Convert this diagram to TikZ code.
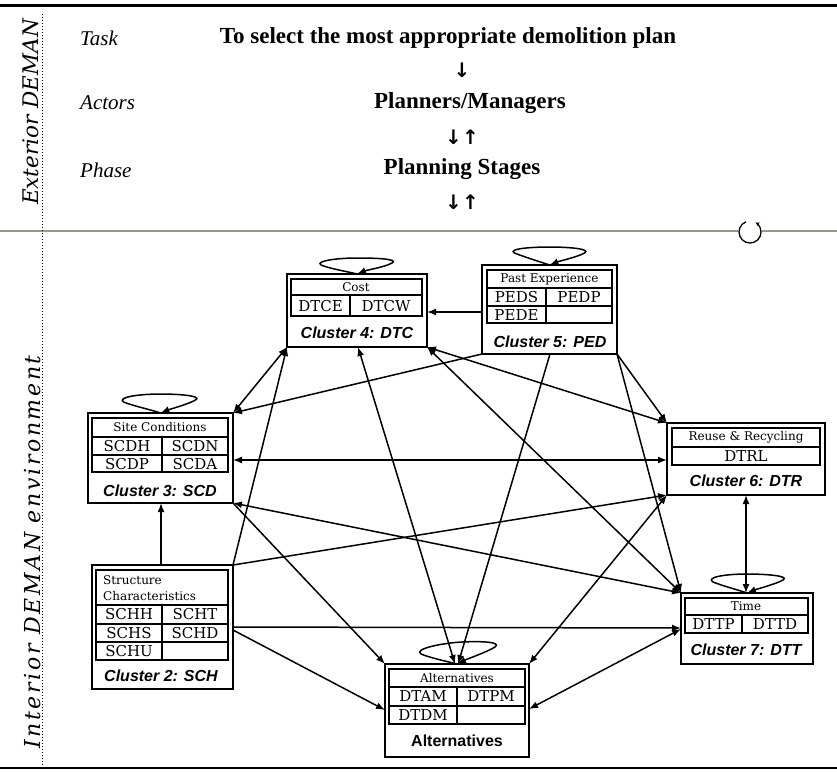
\documentclass[tikz,border=0pt]{standalone}
\usepackage{fontspec}
\setmainfont{Liberation Serif}
\newfontfamily\cellfont{DejaVu Serif}
\newfontfamily\sidefont{DejaVu Serif}
\newfontfamily\sidefontwide[LetterSpace=12]{DejaVu Serif}
\newfontfamily\labfont{Liberation Sans}
\newfontfamily\symfont{DejaVu Sans}
\usetikzlibrary{arrows.meta}
\begin{document}
\begin{tikzpicture}[x=1pt,y=-1pt,
  obox/.style={draw, line width=1.7pt, inner sep=0pt, outer sep=0pt, anchor=north west},
  tbl/.style={line width=1.2pt},
  hdr/.style={font=\cellfont\fontsize{12}{14}\selectfont, inner sep=0pt},
  cell/.style={font=\cellfont\fontsize{15}{17}\selectfont, inner sep=0pt},
  clab/.style={font=\labfont\bfseries\itshape\fontsize{16}{18}\selectfont, inner sep=0pt},
  con/.style={line width=1.5pt, -{Latex[length=9pt,width=7pt]}},
  bicon/.style={line width=1.5pt, {Latex[length=9pt,width=7pt]}-{Latex[length=9pt,width=7pt]}},
  side/.style={font=\sidefont\itshape\fontsize{21.5}{24}\selectfont, rotate=90, inner sep=0pt},
  sidewide/.style={font=\sidefontwide\itshape\fontsize{22}{24}\selectfont, rotate=90, inner sep=0pt},
  rowlab/.style={font=\itshape\fontsize{21}{24}\selectfont, anchor=west, inner sep=0pt},
  main/.style={font=\bfseries\fontsize{23}{26}\selectfont, inner sep=0pt},
  sym/.style={font=\symfont\bfseries\fontsize{20}{22}\selectfont, inner sep=0pt},
  ]
\useasboundingbox (0,0) rectangle (837,772);
\fill[white] (0,0) rectangle (837,772);

% rules
\draw[line width=3pt] (0,5) -- (837,5);
\draw[line width=2.5pt] (0,768) -- (837,768);
\draw[line width=1.5pt, color={rgb,255:red,150;green,150;blue,140}] (0,231) -- (837,231);
\draw[dotted, line width=1pt] (42,14) -- (42,766);

% side labels
\node[side] (ext) at (31,112) {Exterior DEMAN};
\node[sidewide] (int) at (33,552) {Interior DEMAN environment};

% exterior rows
\node[rowlab] (task) at (80,38) {Task};
\node[rowlab] (actors) at (80,103) {Actors};
\node[rowlab] (phase) at (80,170) {Phase};
\node[main] (tsk) at (448,38) {To select the most appropriate demolition plan};
\node[main] (act) at (470,103) {Planners/Managers};
\node[main] (pha) at (462,169) {Planning Stages};
\node[sym] (a1) at (462,70) {↓};
\node[sym] (a2) at (462,137) {↓↑};
\node[sym] (a3) at (462,202) {↓↑};

% cycle symbol
\fill[white] (750,232) circle[radius=12pt];
\draw[line width=1.3pt, -{Stealth[length=4pt,width=4pt]}] (750,232) ++(112:11pt) arc[start angle=112, end angle=420, radius=11pt];

% ---------- Cluster 4: DTC
\node[obox, minimum width=140pt, minimum height=73pt] (dtc) at (287,274) {};
\draw[tbl] (291,279) rectangle (422,316) (291,295) -- (422,295) (350,295) -- (350,316);
\node[hdr] (dtch) at (356,287) {Cost};
\node[cell] (dtce) at (320.5,306) {DTCE};
\node[cell] (dtcw) at (386,306) {DTCW};
\node[clab] (dtcl) at (357,333) {Cluster 4: DTC};

% ---------- Cluster 5: PED
\node[obox, minimum width=135pt, minimum height=89pt] (ped) at (482,265) {};
\draw[tbl] (487,270) rectangle (612,323) (487,288) -- (612,288) (487,306) -- (612,306) (546,288) -- (546,323);
\node[hdr] (pedh) at (549.5,279) {Past Experience};
\node[cell] (peds) at (516.5,297.5) {PEDS};
\node[cell] (pedp) at (579,297.5) {PEDP};
\node[cell] (pede) at (516.5,315) {PEDE};
\node[clab] (pedl) at (550,342) {Cluster 5: PED};

% ---------- Cluster 3: SCD
\node[obox, minimum width=145pt, minimum height=90pt] (scd) at (88,413) {};
\draw[tbl] (92,418) rectangle (228,472) (92,437) -- (228,437) (92,455) -- (228,455) (162,437) -- (162,472);
\node[hdr] (scdhd) at (160,427.5) {Site Conditions};
\node[cell] (scdh) at (127,446.5) {SCDH};
\node[cell] (scdn) at (195,446.5) {SCDN};
\node[cell] (scdp) at (127,464) {SCDP};
\node[cell] (scda) at (195,464) {SCDA};
\node[clab] (scdl) at (160,491) {Cluster 3: SCD};

% ---------- Cluster 6: DTR
\node[obox, minimum width=158pt, minimum height=72pt] (dtr) at (667,423) {};
\draw[tbl] (672,428) rectangle (820,465) (672,447) -- (820,447);
\node[hdr] (dtrh) at (746,437.5) {Reuse \& Recycling};
\node[cell] (dtrl) at (746,456.5) {DTRL};
\node[clab] (dtrlab) at (746,481) {Cluster 6: DTR};

% ---------- Cluster 7: DTT
\node[obox, minimum width=132pt, minimum height=71pt] (dtt) at (681,593) {};
\draw[tbl] (685,598) rectangle (808,633) (685,615) -- (808,615) (742,615) -- (742,633);
\node[hdr] (dtth) at (746,606.5) {Time};
\node[cell] (dttp) at (713.5,624.5) {DTTP};
\node[cell] (dttd) at (775,624.5) {DTTD};
\node[clab] (dttl) at (746,650) {Cluster 7: DTT};

% ---------- Cluster 2: SCH
\node[obox, minimum width=141pt, minimum height=124pt] (sch) at (92,565) {};
\draw[tbl] (96,570) rectangle (228,660) (96,605) -- (228,605) (96,624) -- (228,624) (96,642) -- (228,642) (162,605) -- (162,660);
\node[hdr, anchor=west] (schh1) at (103,580) {Structure};
\node[hdr, anchor=west] (schh2) at (103,596) {Characteristics};
\node[cell] (schhh) at (129,614.5) {SCHH};
\node[cell] (scht) at (195,614.5) {SCHT};
\node[cell] (schs) at (129,633) {SCHS};
\node[cell] (schd) at (195,633) {SCHD};
\node[cell] (schu) at (129,651) {SCHU};
\node[clab] (schl) at (161,676) {Cluster 2: SCH};

% ---------- Alternatives
\node[obox, minimum width=144pt, minimum height=93pt] (alt) at (385,664) {};
\draw[tbl] (389,669) rectangle (525,724) (389,687) -- (525,687) (389,706) -- (525,706) (457,687) -- (457,724);
\node[hdr] (alth) at (457,678) {Alternatives};
\node[cell] (dtam) at (423,696.5) {DTAM};
\node[cell] (dtpm) at (491,696.5) {DTPM};
\node[cell] (dtdm) at (423,715) {DTDM};
\node[font=\labfont\bfseries\fontsize{16}{18}\selectfont, inner sep=0pt] (altl) at (457,741) {Alternatives};

% ---------- self loops
\begin{scope}[shift={(dtc.north)}]
\draw[con] (dtc.north) .. controls (-12,-3) and (-26,-5) .. (-36,-9) .. controls (-42,-13) and (-20,-16) .. (0,-16) .. controls (20,-16) and (42,-15) .. (35,-11) .. controls (28,-7) and (10,-4) .. (dtc.north);
\end{scope}
\begin{scope}[shift={(ped.north)}]
\draw[con] (ped.north) .. controls (-12,-4) and (-25,-8) .. (-35,-12) .. controls (-42,-16) and (-20,-18) .. (0,-18) .. controls (20,-18) and (42,-16) .. (35,-12) .. controls (28,-8) and (10,-4) .. (ped.north);
\end{scope}
\begin{scope}[shift={(scd.north)}]
\draw[con] (scd.north) .. controls (-12,-4) and (-27,-7) .. (-37,-11) .. controls (-44,-16) and (-20,-19) .. (0,-19) .. controls (20,-19) and (42,-17) .. (35,-13) .. controls (28,-9) and (10,-4) .. (scd.north);
\end{scope}
\begin{scope}[shift={(dtt.north)}]
\draw[con] (dtt.north) .. controls (-12,-4) and (-24,-7) .. (-34,-11) .. controls (-42,-16) and (-20,-19) .. (0,-19) .. controls (20,-19) and (43,-17) .. (36,-13) .. controls (29,-9) and (10,-4) .. (dtt.north);
\end{scope}
\begin{scope}[shift={(alt.north)}]
\draw[con] (alt.north) .. controls (-12,-3) and (-26,-6) .. (-36,-10) .. controls (-44,-15) and (-15,-21) .. (5,-22) .. controls (25,-23) and (45,-22) .. (38,-17) .. controls (30,-12) and (10,-5) .. (alt.north);
\end{scope}

% ---------- connectors
\draw[con] (ped.west |- 0,312) -- (dtc.east |- 0,312);
\draw[bicon] (dtc.south west) -- (scd.north east);
\draw[con] (sch.north east) -- (dtc.south west);
\draw[con] (ped.south west) -- (scd.north east);
\draw[bicon] (dtc.south east) -- (dtr.north west);
\draw[bicon] (dtc.south east) -- (dtt.north west);
\draw[bicon] (dtc.south -| 358,0) -- (alt.north -| 455,0);
\draw[con] (ped.south -| 550,0) -- (alt.north -| 458,0);
\draw[con] (ped.south east) -- (dtr.north west);
\draw[con] (ped.south east) -- (dtt.north west);
\draw[bicon] (scd.east |- 0,460) -- (dtr.west |- 0,460);
\draw[bicon] (scd.south east) -- (dtt.north west);
\draw[con] (scd.south east) -- (alt.north west);
\draw[con] (sch.north -| 161,0) -- (scd.south -| 161,0);
\draw[con] (sch.north east) -- (dtr.south west);
\draw[con] (sch.east |- 0,627) -- (dtt.west |- 0,628);
\draw[con] (sch.east |- 0,630) -- (alt.west |- 0,710);
\draw[bicon] (dtr.south west) -- (alt.north east);
\draw[bicon] (dtr.south -| 746,0) -- (dtt.north -| 746,0);
\draw[bicon] (alt.east |- 0,709) -- (dtt.west |- 0,629);
\end{tikzpicture}
\end{document}
